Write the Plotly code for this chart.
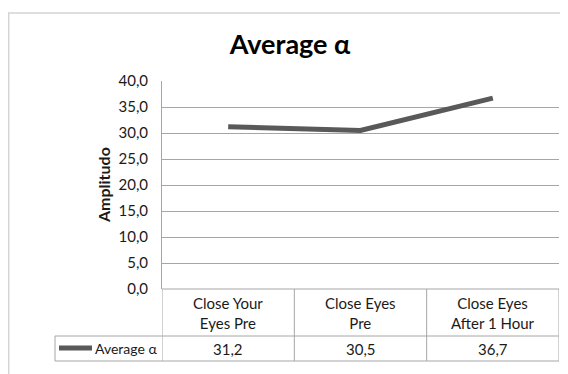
import plotly.graph_objects as go

categories = ["Close Your<br>Eyes Pre", "Close Eyes<br>Pre", "Close Eyes<br>After 1 Hour"]
series_name = "Average α"
values = [31.2, 30.5, 36.7]
y_ticks = [0, 5, 10, 15, 20, 25, 30, 35, 40]

FONT = "Lato, Carlito, Calibri, sans-serif"
TXT = "#1a1a1a"
GRID = "#a6a6a6"
LINE = "#595959"

# page body has an 8px margin; work in window pixels and convert
OX, OY = 8, 8
W, H = 568 - OX, 374 - OY
L, R, T, B = 162 - OX, 9, 81 - OY, 374 - 289
pw = W - L - R
ph = H - T - B

def px_x(x):
    return (x - OX - L) / pw

def px_y(y):
    return (H - B - (y - OY)) / ph

xs = list(range(len(categories)))

fig = go.Figure()
fig.add_trace(go.Scatter(
    x=xs, y=values, mode="lines",
    line=dict(color=LINE, width=5),
    name=series_name, showlegend=False, hoverinfo="skip",
))

shapes = []
# outer chart border
shapes.append(dict(type="rect", xref="paper", yref="paper",
                   x0=px_x(8.7), x1=px_x(600), y0=px_y(13), y1=px_y(400),
                   line=dict(color="#d4d4d4", width=1.5), layer="below"))

row1 = px_y(336)
row2 = px_y(361)
legx = px_x(55)
for i in range(len(categories) + 1):
    shapes.append(dict(type="line", xref="x", yref="paper",
                       x0=i - 0.5, x1=i - 0.5, y0=0, y1=row2,
                       line=dict(color=GRID, width=1)))
shapes.append(dict(type="line", xref="x", yref="paper", x0=-0.5, x1=len(categories) - 0.5,
                   y0=0, y1=0, line=dict(color=GRID, width=1)))
for yy in (row1, row2):
    shapes.append(dict(type="line", xref="paper", yref="paper", x0=legx, x1=1,
                       y0=yy, y1=yy, line=dict(color=GRID, width=1)))
shapes.append(dict(type="line", xref="paper", yref="paper", x0=legx, x1=legx,
                   y0=row1, y1=row2, line=dict(color=GRID, width=1)))
shapes.append(dict(type="line", xref="paper", yref="paper", x0=px_x(59), x1=px_x(92),
                   y0=px_y(348), y1=px_y(348), line=dict(color=LINE, width=5)))

annotations = []
for i, c in enumerate(categories):
    annotations.append(dict(x=i, y=px_y(312.5), xref="x", yref="paper", text=c,
                            showarrow=False, font=dict(family=FONT, size=15, color=TXT),
                            align="center", xanchor="center", yanchor="middle"))
    annotations.append(dict(x=i, y=px_y(348.5), xref="x", yref="paper",
                            text=f"{values[i]:.1f}".replace(".", ","),
                            showarrow=False, font=dict(family=FONT, size=15, color=TXT),
                            xanchor="center", yanchor="middle"))
annotations.append(dict(x=px_x(159), y=px_y(348.5), xref="paper", yref="paper",
                        text=series_name, showarrow=False,
                        font=dict(family=FONT, size=14, color=TXT),
                        xanchor="right", yanchor="middle"))
annotations.append(dict(x=px_x(103), y=px_y(185), xref="paper", yref="paper",
                        text="<b>Amplitudo</b>", textangle=-90, showarrow=False,
                        font=dict(family=FONT, size=16, color=TXT),
                        xanchor="center", yanchor="middle"))

fig.update_layout(
    width=W, height=H,
    margin=dict(l=L, r=R, t=T, b=B, pad=0),
    paper_bgcolor="white", plot_bgcolor="white",
    separators=",.",
    title=dict(text="<b>Average α</b>", x=(290 - OX) / W, xanchor="center",
               y=1 - (45 - OY) / H, yanchor="middle",
               font=dict(family=FONT, size=27, color="#000000")),
    xaxis=dict(range=[-0.5, len(categories) - 0.5], showticklabels=False,
               showgrid=False, zeroline=False, showline=False, ticks=""),
    yaxis=dict(range=[0, 40], tickvals=y_ticks, tickformat=".1f",
               showgrid=True, gridcolor=GRID, gridwidth=1, zeroline=False,
               showline=True, linecolor=GRID, linewidth=1, ticks="",
               ticklabelstandoff=10,
               tickfont=dict(family=FONT, size=15, color=TXT)),
    shapes=shapes, annotations=annotations,
    showlegend=False,
)

fig.write_html("out.html")
